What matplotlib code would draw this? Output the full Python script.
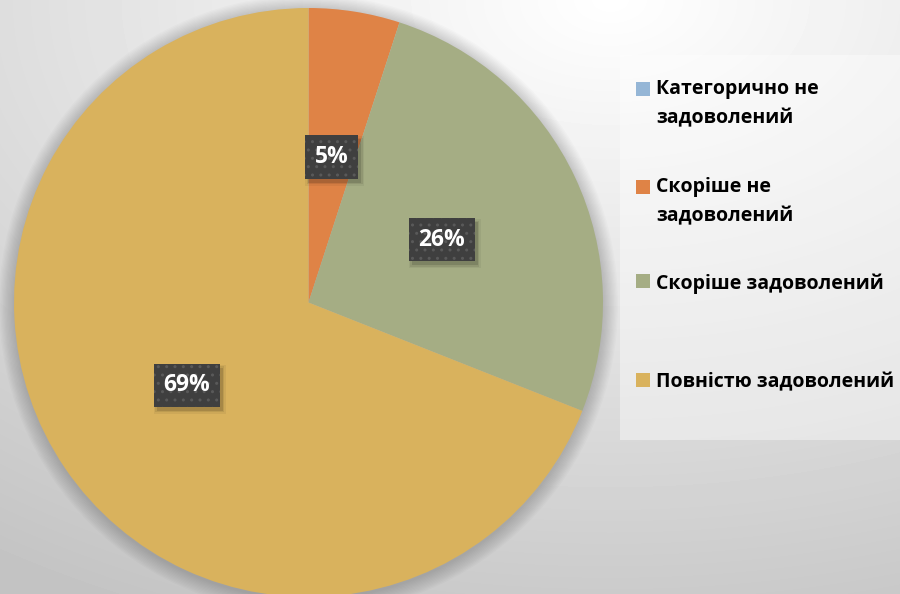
import matplotlib
matplotlib.use('Agg')
import matplotlib.pyplot as plt
import numpy as np
from matplotlib.patches import Rectangle, Circle

# %%
categories = ['Категорично не\nзадоволений', 'Скоріше не\nзадоволений',
              'Скоріше задоволений', 'Повністю задоволений']
values = [0, 5, 26, 69]
colors = ['#95b6d6', '#df8346', '#a5ad84', '#d9b25d']

plt.rcParams['font.family'] = ['Open Sans', 'DejaVu Sans']

W, H = 900, 594
fig = plt.figure(figsize=(9, 5.94), dpi=100)

# background gradient (light spot near the top right)
bg = fig.add_axes([0, 0, 1, 1], zorder=0)
yy, xx = np.mgrid[0:H, 0:W]
dist = np.hypot((xx - 610) * 0.055, (yy - 0) * 0.088)
shade = np.clip(255 - dist, 195, 255) / 255
bg.imshow(shade, cmap='gray', vmin=0, vmax=1, extent=[0, W, 0, H], origin='upper', aspect='auto')
bg.set_xlim(0, W)
bg.set_ylim(0, H)
bg.axis('off')

ax = fig.add_axes([0, 0, 1, 1], zorder=1)
ax.patch.set_alpha(0)

cx, cy, R = 308.5, H - 302.5, 294.5

# soft shadow around the pie
for i in range(12):
    ax.add_patch(Circle((cx, cy - 2), R + 15 - i * 1.3, color='black', alpha=0.016, lw=0, zorder=1))

# legend panel
ax.add_patch(Rectangle((620, H - 440), 280, 385, facecolor='white', alpha=0.4, lw=0, zorder=1))


def fmt(p):
    return f'{p:.0f}%' if p > 0.5 else ''


wedges, texts, autotexts = ax.pie(values, colors=colors, startangle=90, counterclock=False,
                                  center=(cx, cy), radius=R, autopct=fmt, pctdistance=0.5,
                                  wedgeprops={'linewidth': 0}, frame=True)
ax.set_xlim(0, W)
ax.set_ylim(0, H)
ax.set_aspect('equal')
ax.axis('off')
for w in wedges:
    w.set_zorder(2)

for t in autotexts:
    t.set_fontsize(16.5)
    t.set_fontweight('bold')
    t.set_color('white')
    t.set_zorder(4)
    t.set_bbox(dict(boxstyle='square,pad=0.42', facecolor='#3f3f3f', edgecolor='#595959',
                    hatch='..', lw=0))

# drop shadows under the label boxes
fig.canvas.draw()
for t in autotexts:
    if not t.get_text():
        continue
    bb = t.get_bbox_patch().get_window_extent()
    for k, a in [(0, 0.12), (1.5, 0.08), (3, 0.05)]:
        ax.add_patch(Rectangle((bb.x0 + 3 - k, bb.y0 - 4 - k), bb.width + 2 * k, bb.height + 2 * k,
                               facecolor='black', alpha=a, lw=0, zorder=3))

# legend
leg_y = [88, 186, 280, 379]
for lab, col, y in zip(categories, colors, leg_y):
    ax.add_patch(Rectangle((636, H - y - 8), 14, 14, facecolor=col, lw=0, zorder=3))
    if '\n' in lab:
        ax.text(656, H - y + 9, lab, ha='left', va='top', fontsize=14, fontweight='bold',
                color='black', linespacing=1.6, zorder=3)
    else:
        ax.text(656, H - y - 1, lab, ha='left', va='center_baseline', fontsize=14,
                fontweight='bold', color='black', zorder=3)

fig.savefig('out.png', dpi=100)
